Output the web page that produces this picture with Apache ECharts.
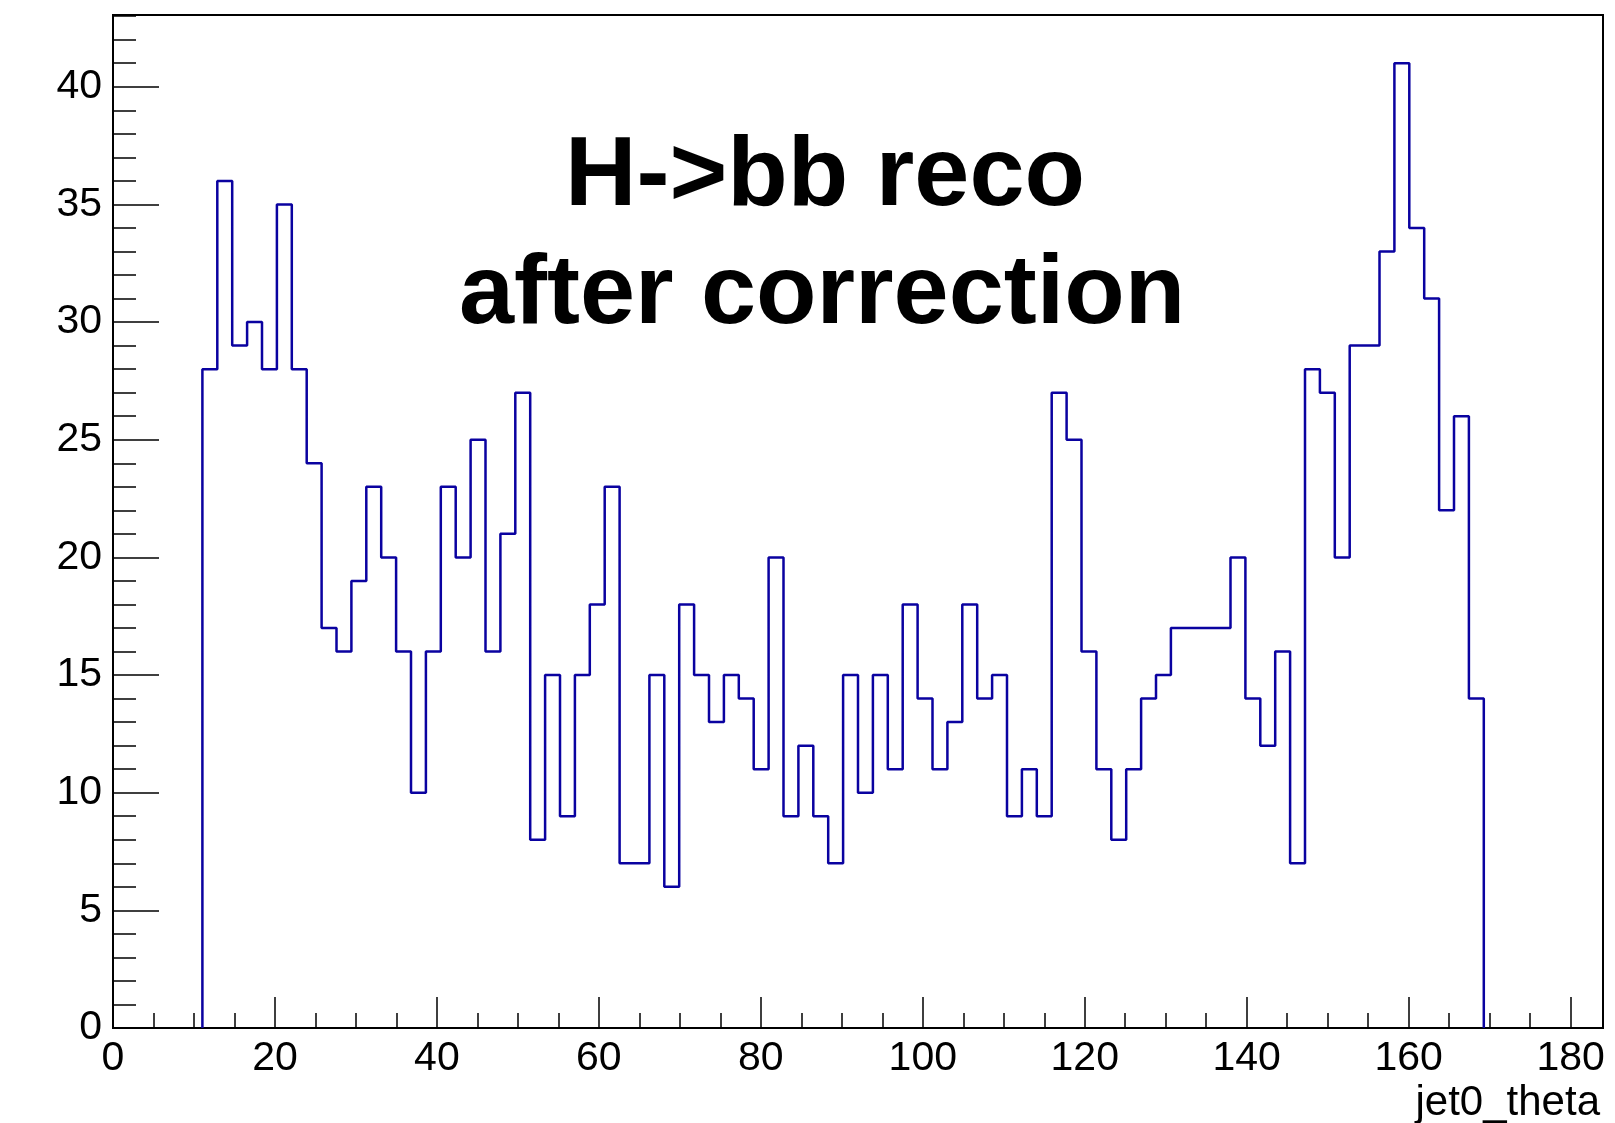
<!DOCTYPE html>
<html>
<head>
<meta charset="utf-8">
<script src="https://cdn.jsdelivr.net/npm/echarts@6/dist/echarts.min.js"></script>
<style>
html,body{margin:0;padding:0;background:#ffffff;}
#chart{width:1615px;height:1123px;}
</style>
</head>
<body>
<div id="chart"></div>
<script>
// ---- data ----
const xRange = [0, 184];
const nBins = 100;
const counts = [
  0,0,0,0,0,0,
  28,36,29,30,28,35,28,24,17,16,
  19,23,20,16,10,16,23,20,25,16,
  21,27,8,15,9,15,18,23,7,7,
  15,6,18,15,13,15,14,11,20,9,
  12,9,7,15,10,15,11,18,14,11,
  13,18,14,15,9,11,9,27,25,16,
  11,8,11,14,15,17,17,17,17,20,
  14,12,16,7,28,27,20,29,29,33,
  41,34,31,22,26,14,
  0,0,0,0,0,0,0,0
];
const xTickLabels = [0,20,40,60,80,100,120,140,160,180];
const yTickLabels = [0,5,10,15,20,25,30,35,40];
const titleLines = ['H->bb reco', 'after correction'];
const xTitle = 'jet0_theta';

// ---- build histogram outline from bins ----
const binW = (xRange[1] - xRange[0]) / nBins;
const edge = i => +(xRange[0] + i * binW).toFixed(4);
let first = counts.findIndex(v => v > 0);
let last = counts.length - 1;
while (last > 0 && counts[last] === 0) last--;
const outline = [[edge(first), 0]];
for (let i = first; i <= last; i++) {
  outline.push([edge(i), counts[i]]);
  outline.push([edge(i + 1), counts[i]]);
}
outline.push([edge(last + 1), 0]);
const yMax = +(1.05 * Math.max(...counts)).toFixed(2);

const FONT = '"Liberation Sans", Arial, Helvetica, sans-serif';
const gridPos = {left: 113, top: 15, right: 12, bottom: 95};

const chart = echarts.init(document.getElementById('chart'), null, {renderer: 'canvas'});
chart.setOption({
  animation: false,
  backgroundColor: '#ffffff',
  grid: [
    Object.assign({show: true, borderColor: '#000', borderWidth: 2, backgroundColor: 'transparent'}, gridPos),
    Object.assign({show: false}, gridPos)
  ],
  xAxis: [
    {
      type: 'value', gridIndex: 0, min: xRange[0], max: xRange[1], interval: 20,
      axisLine: {show: true, lineStyle: {color: '#000', width: 2}},
      axisTick: {show: true, inside: true, length: 31, lineStyle: {color: '#000', width: 1.5}},
      axisLabel: {
        show: true, color: '#000', fontSize: 41, fontFamily: FONT, margin: 10,
        formatter: v => xTickLabels.includes(v) ? String(v) : ''
      },
      splitLine: {show: false}
    },
    {
      type: 'value', gridIndex: 1, min: xRange[0], max: xRange[1], interval: 5,
      axisLine: {show: false},
      axisTick: {show: true, inside: true, length: 15, lineStyle: {color: '#000', width: 1.5}},
      axisLabel: {show: false},
      splitLine: {show: false}
    }
  ],
  yAxis: [
    {
      type: 'value', gridIndex: 0, min: 0, max: yMax, interval: 5,
      axisLine: {show: true, lineStyle: {color: '#000', width: 2}},
      axisTick: {show: true, inside: true, length: 46, lineStyle: {color: '#000', width: 1.5}},
      axisLabel: {
        show: true, color: '#000', fontSize: 41, fontFamily: FONT, margin: 11,
        formatter: v => yTickLabels.includes(v) ? String(v) : ''
      },
      splitLine: {show: false}
    },
    {
      type: 'value', gridIndex: 1, min: 0, max: yMax, interval: 1,
      axisLine: {show: false},
      axisTick: {show: true, inside: true, length: 23, lineStyle: {color: '#000', width: 1.5}},
      axisLabel: {show: false},
      splitLine: {show: false}
    }
  ],
  series: [{
    type: 'line',
    xAxisIndex: 0, yAxisIndex: 0,
    data: outline,
    symbol: 'none',
    lineStyle: {color: '#0a02a0', width: 2.5},
    clip: false,
    z: 3
  }],
  graphic: [
    {type: 'text', x: 825, y: 178, z: 10,
     style: {text: titleLines[0], font: 'bold 99px ' + FONT, fill: '#000', textAlign: 'center', textVerticalAlign: 'middle'}},
    {type: 'text', x: 822, y: 296, z: 10,
     style: {text: titleLines[1], font: 'bold 99px ' + FONT, fill: '#000', textAlign: 'center', textVerticalAlign: 'middle'}},
    {type: 'text', x: 1600, y: 1103, z: 10,
     style: {text: xTitle, font: '42px ' + FONT, fill: '#000', textAlign: 'right', textVerticalAlign: 'middle'}}
  ]
});
</script>
</body>
</html>
